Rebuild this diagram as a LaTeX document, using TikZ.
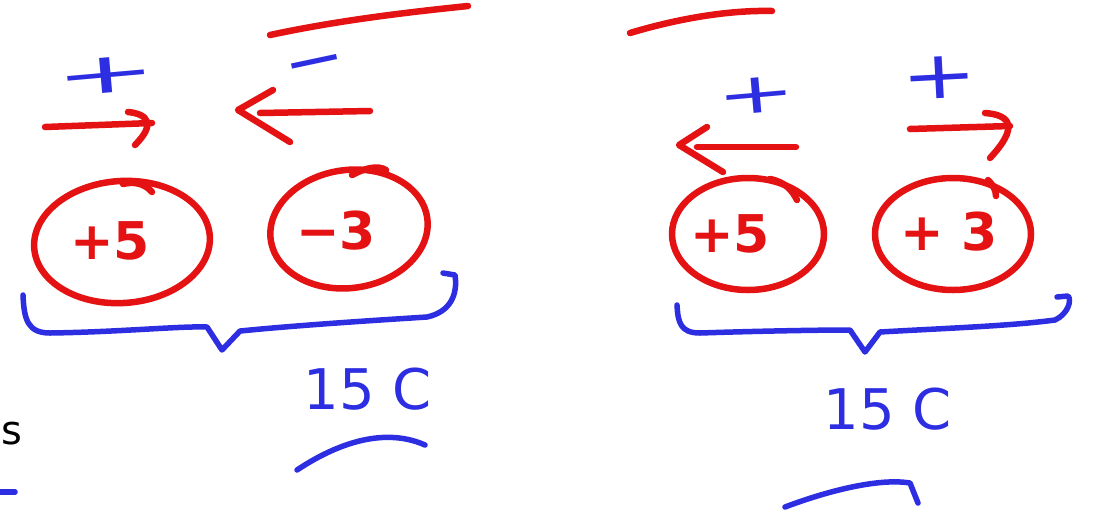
\documentclass[tikz,border=0pt]{standalone}
\usepackage{fontspec}
\setmainfont{DejaVu Sans}
\usetikzlibrary{shapes.geometric}
\definecolor{pen}{RGB}{228,18,18}
\definecolor{ink}{RGB}{45,45,225}
\begin{document}
\begin{tikzpicture}[x=1pt,y=-1pt,line cap=round,line join=round,
  redline/.style={draw=pen,line width=6.5pt},
  blueline/.style={draw=ink,line width=5.5pt},
  ring/.style={ellipse,draw=pen,line width=6.5pt,inner sep=0pt},
  redtext/.style={text=pen,font=\fontsize{52}{52}\selectfont\bfseries,inner sep=0pt},
  bluetext/.style={text=ink,font=\fontsize{56}{56}\selectfont,inner sep=0pt},
  signtext/.style={text=ink,font=\fontsize{70}{70}\selectfont,inner sep=0pt}]
\useasboundingbox (0,0) rectangle (1097,515);
\clip (0,0) rectangle (1097,515);
\fill[white] (0,0) rectangle (1097,515);

% top strokes
\coordinate (t1a) at (270,35); \coordinate (t1b) at (468,6);
\draw[redline] (t1a) .. controls (340,20) and (410,12) .. (t1b);
\coordinate (t2a) at (630,33); \coordinate (t2b) at (772,11);
\draw[redline] (t2a) .. controls (680,18) and (730,10) .. (t2b);

% signs
\node[signtext,rotate=5] (s1) at (106,76) {\scalebox{1.75}[0.8]{+}};
\node[signtext,rotate=12] (s2) at (316,70) {\scalebox{1.05}[0.9]{−}};
\node[signtext,rotate=5] (s3) at (756,96) {\scalebox{1.35}[0.8]{+}};
\node[signtext,rotate=3] (s4) at (939,78) {\scalebox{1.3}[0.95]{+}};

% arrows
\coordinate (a1s) at (45,127); \coordinate (a1e) at (152,123);
\draw[redline] (a1s) -- (a1e);
\draw[redline] (128,112) .. controls (148,114) and (156,124) .. (135,145);
\coordinate (a2s) at (370,111); \coordinate (a2e) at (260,113);
\draw[redline] (a2s) -- (a2e);
\draw[redline] (273,90) -- (238,110) -- (290,142);
\coordinate (a3s) at (796,147); \coordinate (a3e) at (697,147);
\draw[redline] (a3s) -- (a3e);
\draw[redline] (707,127) -- (679,145) -- (723,172);
\coordinate (a4s) at (910,129); \coordinate (a4e) at (1010,126);
\draw[redline] (a4s) -- (a4e);
\draw[redline] (985,113) .. controls (1012,115) and (1018,128) .. (990,158);

% circles
\node[ring,minimum width=176pt,minimum height=122pt,rotate=4] (c1) at (122,242) {};
\node[redtext] (l1) at (110,241) {+5};
\draw[redline] (123,184) .. controls (135,181) and (145,184) .. (152,192);
\node[ring,minimum width=158pt,minimum height=118pt,rotate=8] (c2) at (349,229) {};
\node[redtext] (l2) at (336,231) {−3};
\draw[redline] (352,175) .. controls (365,168) and (378,165) .. (386,170);
\node[ring,minimum width=152pt,minimum height=112pt] (c3) at (748,234) {};
\node[redtext] (l3) at (730,234) {+5};
\draw[redline] (770,179) .. controls (785,182) and (792,190) .. (797,200);
\node[ring,minimum width=156pt,minimum height=112pt] (c4) at (953,234) {};
\node[redtext] (l4) at (949,232) {+ 3};
\draw[redline] (988,180) .. controls (993,185) and (996,190) .. (996,196);

% braces
\draw[blueline] (23,295) .. controls (24,320) and (28,333) .. (50,333)
  .. controls (120,332) and (180,326) .. (207,327) -- (222,350) -- (240,331)
  .. controls (300,325) and (380,320) .. (427,317)
  .. controls (450,312) and (458,295) .. (455,275) -- (443,273);
\draw[blueline] (677,305) .. controls (678,322) and (680,333) .. (700,333)
  .. controls (760,331) and (820,330) .. (850,330) -- (865,352) -- (880,332)
  .. controls (950,328) and (1010,326) .. (1055,320)
  .. controls (1068,314) and (1072,300) .. (1068,296) -- (1057,297);

% totals
\node[bluetext] (q1) at (368,389) {15 C};
\node[bluetext] (q2) at (888,409) {15 C};
\draw[blueline] (297,470) .. controls (330,448) and (380,425) .. (425,445);
\draw[blueline] (785,507) .. controls (830,490) and (880,478) .. (910,483) -- (918,503);

% edge marks
\node[font=\fontsize{40}{40}\selectfont,inner sep=0pt,anchor=west] (e1) at (1,434) {s};
\coordinate (d1) at (0,492); \coordinate (d2) at (15,492);
\draw[blueline] (d1) -- (d2);
\end{tikzpicture}
\end{document}
